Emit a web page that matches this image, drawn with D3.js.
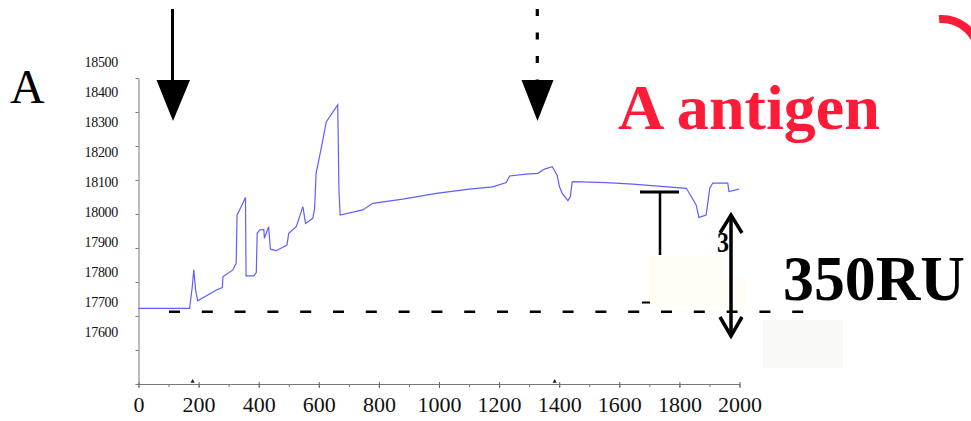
<!DOCTYPE html>
<html>
<head>
<meta charset="utf-8">
<script src="https://cdn.jsdelivr.net/npm/d3@7"></script>
<style>
    body { margin: 0; background: #fff; }
    svg { display: block; }
    text { font-family: "Liberation Serif", "Times New Roman", serif; }
</style>
</head>
<body>
<div id="vis"></div>
<script>
// sensorgram trace (time in s, response in RU)
var timeS = [0, 170, 179, 184, 190, 197, 259, 279, 281, 314, 325, 328, 342, 356, 358,
    384, 392, 395, 403, 417, 419, 433, 436, 439, 458, 494, 500, 525, 547, 556, 580, 586, 591,
    608, 625, 663, 667, 671, 746, 780, 879, 991, 1101, 1179, 1224, 1235, 1290, 1329, 1351, 1377, 1393,
    1401, 1410, 1429, 1437, 1443, 1445, 1556, 1645, 1823, 1840, 1856, 1865, 1889, 1901, 1911, 1961, 1965, 1998];
var responseRU = [17679, 17679, 17751, 17807, 17740, 17704, 17740, 17748, 17784, 17807, 17829, 17990, 18018, 18048, 17787,
    17787, 17798, 17929, 17940, 17942, 17912, 17951, 17912, 17876, 17871, 17890, 17929, 17951, 18018, 17962, 17979, 18012, 18129,
    18212, 18301, 18357, 18073, 17990, 18007, 18029, 18043, 18062, 18076, 18084, 18098, 18120, 18126, 18129, 18143, 18151, 18123,
    18084, 18062, 18038, 18051, 18099, 18101, 18098, 18093, 18079, 18051, 18023, 17982, 17990, 18079, 18096, 18096, 18068, 18076];

var yLabels = [18500, 18400, 18300, 18200, 18100, 18000, 17900, 17800, 17700, 17600];
var xLabels = [0, 200, 400, 600, 800, 1000, 1200, 1400, 1600, 1800, 2000];
var xMinor = d3.range(0, 2001, 100);
var yTickCount = 9;

var width = 971, height = 421;

var svg = d3.select("#vis").append("svg")
    .attr("width", width)
    .attr("height", height);

var x = d3.scaleLinear().domain([0, 2000]).range([138.5, 739.5]);
var y = d3.scaleLinear().domain([17600, 18500]).range([332, 62]);
// the pasted axis ticks do not line up with the labels
var yTick = d3.scaleLinear().domain([0, yTickCount]).range([384, 78]);

// y axis (unlabelled ticks)
var yAxis = svg.append("g")
    .attr("transform", "translate(" + x(0) + ",0)")
    .call(d3.axisLeft(yTick).ticks(yTickCount).tickSize(3).tickSizeOuter(0).tickFormat(""));
yAxis.select(".domain").attr("stroke", "#777");
yAxis.selectAll(".tick line").attr("stroke", "#777");

// y labels
svg.append("g").selectAll("text")
    .data(yLabels)
    .enter().append("text")
    .attr("x", 118)
    .attr("y", function (d) { return y(d); })
    .attr("dy", "0.35em")
    .attr("text-anchor", "end")
    .attr("font-size", 14)
    .attr("letter-spacing", "-0.3")
    .attr("fill", "#111")
    .text(function (d) { return d; });

// x axis minor ticks
var xMinorAxis = svg.append("g")
    .attr("transform", "translate(0,384)")
    .call(d3.axisBottom(x).tickValues(xMinor).tickSize(3).tickSizeOuter(0).tickFormat(""));
xMinorAxis.select(".domain").attr("stroke", "#777");
xMinorAxis.selectAll(".tick line").attr("stroke", "#777");

// x axis major ticks + labels
var xAxis = svg.append("g")
    .attr("transform", "translate(0,384)")
    .call(d3.axisBottom(x).tickValues(xLabels).tickSize(4).tickPadding(8).tickSizeOuter(0)
        .tickFormat(d3.format("d")));
xAxis.select(".domain").remove();
xAxis.selectAll(".tick line").attr("stroke", "#666").attr("y1", -2);
xAxis.selectAll(".tick text")
    .attr("font-family", "Liberation Serif, serif")
    .attr("font-size", 22)
    .attr("fill", "#111");

// small injection markers on the x axis
svg.append("g").selectAll("path")
    .data([180, 1385])
    .enter().append("path")
    .attr("transform", function (d) { return "translate(" + x(d) + ",381.5)"; })
    .attr("d", d3.symbol().type(d3.symbolTriangle).size(8))
    .attr("fill", "#222");

// the trace
var trace = timeS.map(function (t, i) { return [t, responseRU[i]]; });
var line = d3.line()
    .x(function (d) { return x(d[0]); })
    .y(function (d) { return y(d[1]); });

svg.append("path")
    .datum(trace)
    .attr("fill", "none")
    .attr("stroke", "#5f5fff")
    .attr("stroke-width", 1.2)
    .attr("d", line);

// ---- annotations ----
// off-white boxes
svg.append("rect").attr("x", 649).attr("y", 255).attr("width", 76).attr("height", 51).attr("fill", "#fffdf6");
svg.append("rect").attr("x", 725).attr("y", 277).attr("width", 22).attr("height", 29).attr("fill", "#fffdf6");
svg.append("rect").attr("x", 763).attr("y", 320).attr("width", 80).attr("height", 48).attr("fill", "#f9f9f8");

// baseline dashed line
svg.append("line")
    .attr("x1", 169).attr("x2", 805)
    .attr("y1", 311.7).attr("y2", 311.7)
    .attr("stroke", "#000")
    .attr("stroke-width", 2.6)
    .attr("stroke-dasharray", "11,21.8");

// solid arrow (left)
svg.append("line")
    .attr("x1", 172.5).attr("x2", 172.5)
    .attr("y1", 9).attr("y2", 82)
    .attr("stroke", "#000").attr("stroke-width", 3);
svg.append("path")
    .attr("d", "M156.5,80L190,80L173,121Z")
    .attr("fill", "#000");

// dashed arrow
svg.append("line")
    .attr("x1", 537.3).attr("x2", 537.3)
    .attr("y1", 9).attr("y2", 82)
    .attr("stroke", "#000").attr("stroke-width", 3.2)
    .attr("stroke-dasharray", "7,16.5");
svg.append("path")
    .attr("d", "M521.5,80L553.5,80L537.5,121Z")
    .attr("fill", "#000");

// "T" marker
svg.append("line").attr("x1", 640).attr("x2", 679).attr("y1", 192).attr("y2", 192)
    .attr("stroke", "#000").attr("stroke-width", 3);
svg.append("line").attr("x1", 660).attr("x2", 660).attr("y1", 192).attr("y2", 255)
    .attr("stroke", "#000").attr("stroke-width", 2.5);
svg.append("line").attr("x1", 642).attr("x2", 650).attr("y1", 302.5).attr("y2", 302.5)
    .attr("stroke", "#000").attr("stroke-width", 2);

// partly hidden "3"
svg.append("clipPath").attr("id", "clip3")
    .append("rect").attr("x", 700).attr("y", 220).attr("width", 29).attr("height", 40);
svg.append("text")
    .attr("x", 717).attr("y", 252)
    .attr("font-size", 30).attr("font-weight", "bold")
    .attr("textLength", 12).attr("lengthAdjust", "spacingAndGlyphs")
    .attr("clip-path", "url(#clip3)")
    .text("3");

// double arrow
svg.append("line").attr("x1", 731).attr("x2", 731).attr("y1", 216).attr("y2", 335)
    .attr("stroke", "#000").attr("stroke-width", 3.5);
svg.append("path").attr("d", "M720,233L731,215L742,233")
    .attr("fill", "none").attr("stroke", "#000").attr("stroke-width", 3.5);
svg.append("path").attr("d", "M720,317L731,336L742,317")
    .attr("fill", "none").attr("stroke", "#000").attr("stroke-width", 3.5);

// texts
svg.append("text")
    .attr("x", 10).attr("y", 103)
    .attr("font-size", 48)
    .text("A");

svg.append("text")
    .attr("x", 618).attr("y", 129)
    .attr("font-size", 64).attr("font-weight", "bold")
    .attr("fill", "#fe1b38")
    .attr("textLength", 262).attr("lengthAdjust", "spacingAndGlyphs")
    .text("A antigen");

svg.append("text")
    .attr("x", 783).attr("y", 300)
    .attr("font-size", 64).attr("font-weight", "bold")
    .attr("textLength", 182).attr("lengthAdjust", "spacingAndGlyphs")
    .text("350RU");

// red circle fragment, top right
svg.append("path")
    .attr("transform", "translate(941.7,56.7)")
    .attr("d", d3.arc().innerRadius(33.7).outerRadius(41.7).startAngle(-0.07).endAngle(1.6)())
    .attr("fill", "#fe1b38");
</script>
</body>
</html>
